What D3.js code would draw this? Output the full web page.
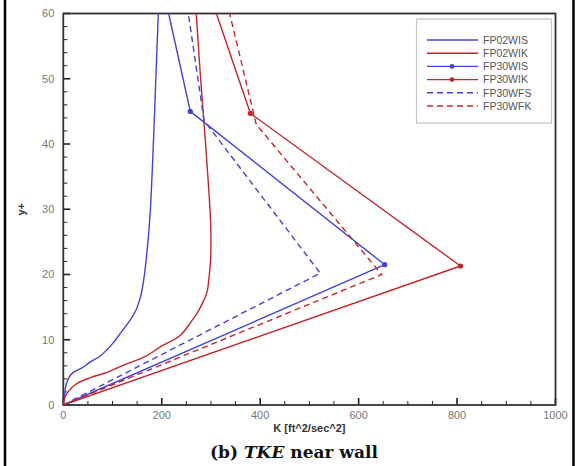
<!DOCTYPE html>
<html>
<head>
<meta charset="utf-8">
<script src="https://cdn.jsdelivr.net/npm/d3@7"></script>
<style>
  html, body { margin: 0; padding: 0; background: #fff; }
  svg { display: block; }
</style>
</head>
<body>
<svg id="chart" width="576" height="466"></svg>
<script>
// Turbulent kinetic energy K versus y+ near the wall, six wall-treatment runs.
const seriesNames = ["FP02WIS", "FP02WIK", "FP30WIS", "FP30WIK", "FP30WFS", "FP30WFK"];

// [K, y+] pairs
const fp02wis = [[0,0],[2,1],[4,2.5],[10,4],[20,5],[36,5.6],[55,6.6],[75,7.5],[100,9.4],[118,11.2],
                 [134,12.8],[148,14.6],[157,16.6],[163,19],[168,22],[173,26],[177,30],[183,40],[188,50],[193,60]];
const fp02wik = [[0,0],[4,1.3],[24,3.1],[55,4.2],[85,4.9],[125,6.2],[166,7.4],[197,8.9],[238,10.7],
                 [262,13],[273,14.2],[284,15.8],[292,17.3],[296,19.5],[299,22],[300,26],[298,30],[289,40],[279,50],[270,60]];
const fp30wis = [[0,0],[653,21.5],[258,45],[214,60]];
const fp30wik = [[0,0],[807,21.3],[380,44.7],[311,60]];
const fp30wfs = [[0,0],[522,20.2],[286,43.6],[254,60]];
const fp30wfk = [[0,0],[647,20],[392,43],[338,60]];

const xTicks = [0, 200, 400, 600, 800, 1000];
const yTicks = [0, 10, 20, 30, 40, 50, 60];

const BLUE = "#4242d4";
const RED = "#c0272d";

const svg = d3.select("#chart");
const W = 576, H = 466;
const plot = { left: 63.3, right: 555.5, top: 13.5, bottom: 405 };

const x = d3.scaleLinear().domain([0, 1000]).range([plot.left, plot.right]);
const y = d3.scaleLinear().domain([0, 60]).range([plot.bottom, plot.top]);

// page frame rules on both sides
svg.append("line").attr("x1", 5).attr("x2", 5).attr("y1", 0).attr("y2", H)
  .attr("stroke", "#000").attr("stroke-width", 2.5);
svg.append("line").attr("x1", 573.5).attr("x2", 573.5).attr("y1", 0).attr("y2", H)
  .attr("stroke", "#000").attr("stroke-width", 2.5);

svg.append("defs").append("clipPath").attr("id", "plotClip")
  .append("rect").attr("x", plot.left).attr("y", plot.top)
  .attr("width", plot.right - plot.left).attr("height", plot.bottom - plot.top);

// axes with inward ticks
const tickFont = "'Liberation Sans', Arial, sans-serif";
d3.range(0, 1001, 50).forEach(v => {
  const major = v % 200 === 0;
  svg.append("line").attr("x1", x(v)).attr("x2", x(v))
    .attr("y1", plot.bottom).attr("y2", plot.bottom - (major ? 7 : 4))
    .attr("stroke", "#222").attr("stroke-width", major ? 1.6 : 1);
});
svg.append("g").selectAll("text").data(xTicks).join("text")
  .attr("x", d => x(d)).attr("y", plot.bottom + 14)
  .attr("text-anchor", "middle").attr("font-family", tickFont).attr("font-size", 11)
  .attr("fill", "#777").text(d => d);

d3.range(0, 61, 2).forEach(v => {
  const major = v % 10 === 0;
  svg.append("line").attr("x1", plot.left).attr("x2", plot.left + (major ? 7 : 4))
    .attr("y1", y(v)).attr("y2", y(v))
    .attr("stroke", "#222").attr("stroke-width", major ? 1.6 : 1);
});
svg.append("g").selectAll("text").data(yTicks).join("text")
  .attr("x", plot.left - 9).attr("y", d => y(d)).attr("dy", "0.35em")
  .attr("text-anchor", "end").attr("font-family", tickFont).attr("font-size", 11)
  .attr("fill", "#777").text(d => d);

// frame
svg.append("rect").attr("x", plot.left).attr("y", plot.top)
  .attr("width", plot.right - plot.left).attr("height", plot.bottom - plot.top)
  .attr("fill", "none").attr("stroke", "#333").attr("stroke-width", 1.8);

// axis titles
svg.append("text").attr("x", (plot.left + plot.right) / 2).attr("y", plot.bottom + 27)
  .attr("text-anchor", "middle").attr("font-family", tickFont).attr("font-size", 11)
  .attr("font-weight", "bold").attr("fill", "#333").text("K [ft^2/sec^2]");
svg.append("text").attr("transform", `translate(25,${(plot.top + plot.bottom) / 2}) rotate(-90)`)
  .attr("text-anchor", "middle").attr("font-family", tickFont).attr("font-size", 11)
  .attr("font-weight", "bold").attr("fill", "#333").text("y+");

// curves
const styles = [
  { name: seriesNames[0], data: fp02wis, color: BLUE, dash: null, markers: false, smooth: true },
  { name: seriesNames[1], data: fp02wik, color: RED, dash: null, markers: false, smooth: true },
  { name: seriesNames[2], data: fp30wis, color: BLUE, dash: null, markers: true, smooth: false },
  { name: seriesNames[3], data: fp30wik, color: RED, dash: null, markers: true, smooth: false },
  { name: seriesNames[4], data: fp30wfs, color: BLUE, dash: "6,4", markers: false, smooth: false },
  { name: seriesNames[5], data: fp30wfk, color: RED, dash: "6,4", markers: false, smooth: false }
];

const g = svg.append("g").attr("clip-path", "url(#plotClip)");
styles.forEach(s => {
  const line = d3.line().x(d => x(d[0])).y(d => y(d[1]))
    .curve(s.smooth ? d3.curveCatmullRom.alpha(0.5) : d3.curveLinear);
  g.append("path").datum(s.data).attr("d", line)
    .attr("fill", "none").attr("stroke", s.color).attr("stroke-width", 1.4)
    .attr("stroke-dasharray", s.dash).attr("stroke-linejoin", "round");
  if (s.markers) {
    g.selectAll(null).data(s.data.filter(d => d[1] < 60)).join("circle")
      .attr("cx", d => x(d[0])).attr("cy", d => y(d[1])).attr("r", 2.6)
      .attr("fill", s.color);
  }
});

// legend
const leg = { x: 416.5, y: 19, w: 135, h: 104 };
svg.append("rect").attr("x", leg.x).attr("y", leg.y).attr("width", leg.w).attr("height", leg.h)
  .attr("fill", "#fff").attr("stroke", "#c4c4c4").attr("stroke-width", 1.2);
styles.forEach((s, i) => {
  const ry = 40 + i * 13.2;
  svg.append("line").attr("x1", 427).attr("x2", 478).attr("y1", ry).attr("y2", ry)
    .attr("stroke", s.color).attr("stroke-width", 1.4).attr("stroke-dasharray", s.dash);
  if (s.markers) {
    svg.append("circle").attr("cx", 452).attr("cy", ry).attr("r", 2.4).attr("fill", s.color);
  }
  svg.append("text").attr("x", 483).attr("y", ry).attr("dy", "0.36em")
    .attr("font-family", tickFont).attr("font-size", 10.5).attr("fill", "#555").text(s.name);
});

// caption
const cap = svg.append("text").attr("x", 294).attr("y", 458).attr("text-anchor", "middle")
  .attr("font-family", "'DejaVu Serif', 'Liberation Serif', serif").attr("font-size", 17)
  .attr("font-weight", "bold").attr("fill", "#111");
cap.append("tspan").text("(b) ");
cap.append("tspan").attr("font-style", "italic").text("TKE");
cap.append("tspan").text(" near wall");
</script>
</body>
</html>
